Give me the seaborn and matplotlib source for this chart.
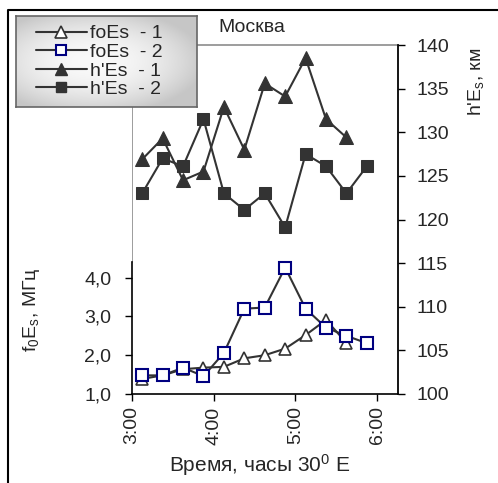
import numpy as np
import pandas as pd
import matplotlib
matplotlib.use("Agg")
import matplotlib.pyplot as plt
import seaborn as sns
from matplotlib.lines import Line2D

# ---- data ----
times = [3.125, 3.375, 3.625, 3.875, 4.125, 4.375, 4.625, 4.875, 5.125, 5.375, 5.625, 5.875]
foEs1 = [1.39, 1.48, 1.64, 1.68, 1.70, 1.92, 2.00, 2.17, 2.52, 2.91, 2.32]
foEs2 = [1.48, 1.48, 1.68, 1.46, 2.06, 3.20, 3.23, 4.26, 3.20, 2.71, 2.50, 2.31]
hEs1 = [126.9, 129.3, 124.5, 125.5, 132.9, 128.0, 135.6, 134.1, 138.5, 131.5, 129.4]
hEs2 = [123.0, 127.0, 126.1, 131.5, 123.0, 121.1, 123.0, 119.1, 127.5, 126.1, 123.0, 126.1]
series_labels = ["foEs  - 1", "foEs  - 2", "h'Es  - 1", "h'Es  - 2"]
xticks = [3, 4, 5, 6]
xticklabels = ["3:00", "4:00", "5:00", "6:00"]
lticks = [1, 2, 3, 4]
lticklabels = ["1,0", "2,0", "3,0", "4,0"]
rticks = [100, 105, 110, 115, 120, 125, 130, 135, 140]
title = "Москва"
xlabel = r"Время, часы 30$^0$ E"
ylabel_left = r"f$_0$E$_\mathrm{s}$, МГц"
ylabel_right = r"h'E$_\mathrm{s}$, км"

sns.set_style("white")
plt.rcParams["font.family"] = ["Liberation Sans", "DejaVu Sans"]
plt.rcParams["mathtext.fontset"] = "custom"
plt.rcParams["mathtext.rm"] = "Liberation Sans"
plt.rcParams["mathtext.it"] = "Liberation Sans"
plt.rcParams["mathtext.bf"] = "Liberation Sans"

W, H = 498, 483
fig = plt.figure(figsize=(W / 100, H / 100), dpi=100)

def fx(px):
    return px / W

def fy(py):
    return 1 - py / H

FS = 14
dark = "#333333"
navy = "#000080"

ax = fig.add_axes([fx(132), fy(394), fx(397.5) - fx(132), fy(45) - fy(394)])
ax.set_facecolor("none")

d1 = pd.DataFrame({"t": times[:len(foEs1)], "v": foEs1})
d2 = pd.DataFrame({"t": times[:len(foEs2)], "v": foEs2})
sns.lineplot(data=d1, x="t", y="v", ax=ax, color=dark, lw=1.5, marker="^", ms=9,
             mfc="white", mec=dark, mew=1.2, zorder=3)
sns.lineplot(data=d2, x="t", y="v", ax=ax, color=dark, lw=1.5, marker="s", ms=8,
             mfc="white", mec=navy, mew=1.5, zorder=4)
ax.set_xlim(3.0, 6.25)
ax.set_ylim(1, 10)
ax.set_xticks(xticks)
ax.set_xticklabels(xticklabels, rotation=90, fontsize=FS)
ax.set_yticks(lticks)
ax.set_yticklabels(lticklabels, fontsize=FS)
ax.set_xlabel("")
ax.set_ylabel("")
ax.tick_params(axis="both", direction="out", length=5, width=1, color="black")
ax.tick_params(axis="x", bottom=True, pad=4)
ax.tick_params(axis="y", left=True, pad=10)
for s in ["top", "right"]:
    ax.spines[s].set_color("#8c8c8c")
    ax.spines[s].set_linewidth(1.2)
ax.spines["left"].set_bounds(1, 4.4)
ax.spines["left"].set_color("black")
ax.spines["bottom"].set_color("black")
ax.spines["left"].set_linewidth(1.2)
ax.spines["bottom"].set_linewidth(1.2)
ax.axvline(3.0, ymin=(4.4 - 1) / 9, ymax=1, color="#8c8c8c", lw=1.2, zorder=1)

ax2 = ax.twinx()
e1 = pd.DataFrame({"t": times[:len(hEs1)], "v": hEs1})
e2 = pd.DataFrame({"t": times[:len(hEs2)], "v": hEs2})
sns.lineplot(data=e1, x="t", y="v", ax=ax2, color=dark, lw=1.5, marker="^", ms=10,
             mfc=dark, mec=dark)
sns.lineplot(data=e2, x="t", y="v", ax=ax2, color=dark, lw=1.5, marker="s", ms=9,
             mfc=dark, mec=dark)
ax2.set_ylim(100, 140)
ax2.set_xlim(3.0, 6.25)
ax2.set_yticks(rticks)
ax2.set_yticklabels([str(v) for v in rticks], fontsize=FS)
ax2.set_ylabel("")
ax2.tick_params(axis="y", right=True, direction="out", length=5, width=1, color="black", pad=9)
for s in ["top", "left", "bottom"]:
    ax2.spines[s].set_visible(False)
ax2.spines["right"].set_color("black")
ax2.spines["right"].set_linewidth(1.2)

# labels
fig.text(fx(32), fy(310), ylabel_left, rotation=90, ha="center", va="center", fontsize=FS)
fig.text(fx(476), fy(82), ylabel_right, rotation=90, ha="center", va="center", fontsize=FS)
fig.text(fx(260), fy(465), xlabel, ha="center", va="center", fontsize=FS + 1)
fig.text(fx(218), fy(27), title, ha="left", va="center", fontsize=FS)

# outer frame
fig.add_artist(Line2D([fx(8), fx(8), fx(500)], [fy(490), fy(10), fy(10)],
                      transform=fig.transFigure, color="black", lw=1.5))

# legend background with gradient
lax = fig.add_axes([fx(16), fy(107), fx(197) - fx(16), fy(16) - fy(107)])
gx = np.linspace(-1, 1, 200)
gy = np.linspace(-1, 1, 100)
GX, GY = np.meshgrid(gx, gy)
r2 = ((GX + 0.15) * 0.85) ** 2 + (GY * 0.9) ** 2
shade = np.clip(0.98 - 0.18 * r2, 0.78, 1.0)
img = np.dstack([shade, shade, shade])
lax.imshow(img, aspect="auto", extent=[0, 1, 0, 1])
lax.set_xticks([])
lax.set_yticks([])
for s in lax.spines.values():
    s.set_color("#666666")
    s.set_linewidth(1.2)

handles = [
    Line2D([], [], color=dark, lw=1.5, marker="^", ms=8, mfc="white", mec=dark, mew=1.2),
    Line2D([], [], color=dark, lw=1.5, marker="s", ms=7, mfc="white", mec=navy, mew=1.5),
    Line2D([], [], color=dark, lw=1.5, marker="^", ms=8, mfc=dark, mec=dark),
    Line2D([], [], color=dark, lw=1.5, marker="s", ms=7, mfc=dark, mec=dark),
]
leg = lax.legend(handles, series_labels, loc="center left", bbox_to_anchor=(0.1, 0.5),
                 frameon=False, fontsize=FS, handlelength=2.6, handletextpad=0.15,
                 labelspacing=0.05, borderpad=0.1, borderaxespad=0)

fig.savefig("out.png", dpi=100)
